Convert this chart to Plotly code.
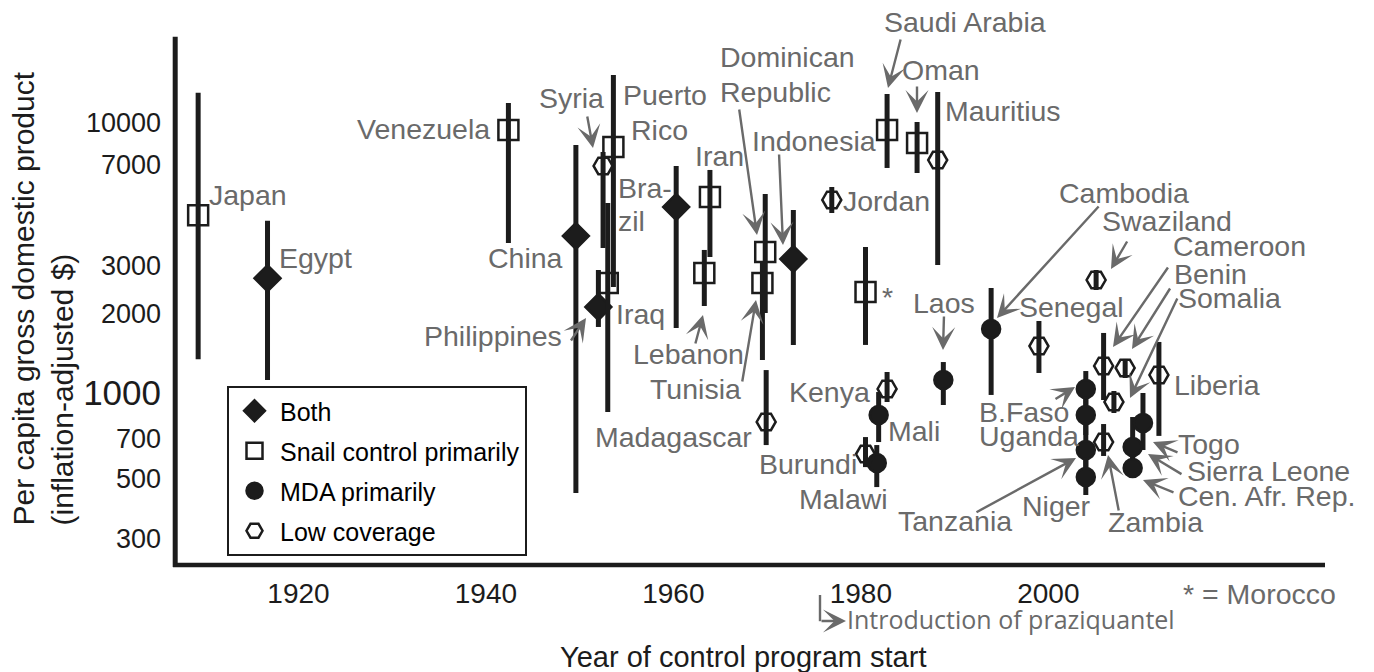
import plotly.graph_objects as go

# ---------------- data ----------------
countries = ["Japan", "Egypt", "Venezuela", "China", "Philippines", "Syria", "Iraq",
             "Puerto Rico", "Brazil", "Lebanon", "Iran", "Tunisia", "Dominican Republic",
             "Madagascar", "Indonesia", "Jordan", "Morocco", "Burundi", "Malawi", "Mali",
             "Kenya", "Saudi Arabia", "Oman", "Mauritius", "Laos", "Cambodia", "Senegal",
             "Burkina Faso", "Uganda", "Tanzania", "Niger", "Swaziland", "Cameroon",
             "Zambia", "Somalia", "Benin", "Sierra Leone", "Central African Republic",
             "Togo", "Liberia"]
start_year = [1909.3, 1916.7, 1942.4, 1949.6, 1952.0, 1952.5, 1953.0,
              1953.6, 1960.3, 1963.3, 1963.9, 1969.5, 1969.8,
              1969.9, 1972.8, 1976.9, 1980.5, 1980.5, 1981.7, 1981.9,
              1982.8, 1982.8, 1986.0, 1988.2, 1988.8, 1993.9, 1999.0,
              2004.0, 2004.0, 2004.0, 2004.0, 2005.1, 2005.9,
              2005.9, 2007.0, 2008.2, 2009.0, 2009.0,
              2010.1, 2011.8]
gdp = [4578, 2692, 9388, 3845, 2115, 6934, 2588,
       8135, 4909, 2815, 5340, 2588, 3360,
       803, 3168, 5207, 2399, 613, 568, 851,
       1060, 9388, 8414, 7290, 1143, 1757, 1522,
       1060, 851, 634, 505, 2654, 1287,
       678, 950, 1265, 650, 545,
       796, 1193]
gdp_low = [1361, 1143, 3625, 441, 1787, 3475, 873,
           2502, 1772, 2132, 3221, 1353, 2010,
           661, 1536, 4667, 1536, 549, 464, 678,
           950, 6818, 6536, 3011, 926, 1008, 1213,
           888, 719, 536, 434, 2440, 966,
           603, 866, 1163, 559, 501,
           634, 714]
gdp_high = [12850, 4374, 11785, 8275, 2887, 7800, 5077,
            14920, 6934, 3418, 6705, 3063, 5477,
            1243, 4786, 5808, 3505, 707, 661, 1033,
            1223, 12715, 10042, 12933, 1330, 2481, 1879,
            1233, 1008, 783, 608, 2887, 1699,
            789, 1042, 1365, 837, 661,
            1025, 1575]
program = ["Snail", "Both", "Snail", "Both", "Both", "Low", "Snail",
           "Snail", "Both", "Snail", "Snail", "Snail", "Snail",
           "Low", "Both", "Low", "Snail", "Low", "MDA", "MDA",
           "Low", "Snail", "Snail", "Low", "MDA", "MDA", "Low",
           "MDA", "MDA", "MDA", "MDA", "Low", "Low",
           "Low", "Low", "Low", "MDA", "MDA",
           "MDA", "Low"]

categories = ["Both", "Snail", "MDA", "Low"]
category_names = ["Both", "Snail control primarily", "MDA primarily", "Low coverage"]
x_ticks = [1920, 1940, 1960, 1980, 2000]
y_ticks = [300, 500, 700, 1000, 2000, 3000, 7000, 10000]

# ---------------- styling ----------------
INK = "#1c1c1c"
GRAY = "#6a6a6a"
FONT = "Liberation Sans, Arial, Helvetica, sans-serif"
symbols = {"Both": ("diamond", 20), "Snail": ("square-open", 20),
           "MDA": ("circle", 18), "Low": ("hexagon2-open", 19)}

# page offset (body margin) and plot-area geometry in window pixels
OFF = 8
W, H = 1374, 672
L, R, T, B = 175, 1325, 37, 565
def pxx(px):
    return (px - L) / (R - L)
def pxy(py):
    return (B - py) / (B - T)

fig = go.Figure()
for cat, name in zip(categories, category_names):
    idx = [i for i, p in enumerate(program) if p == cat]
    sym, size = symbols[cat]
    fig.add_trace(go.Scatter(
        x=[start_year[i] for i in idx],
        y=[gdp[i] for i in idx],
        text=[countries[i] for i in idx],
        mode="markers",
        name=name,
        legendgroup=cat,
        marker=dict(symbol=sym, size=size, color=INK,
                    line=dict(color=INK, width=2.5)),
        error_y=dict(type="data", symmetric=False,
                     array=[gdp_high[i] - gdp[i] for i in idx],
                     arrayminus=[gdp[i] - gdp_low[i] for i in idx],
                     thickness=5, width=0, color=INK),
        cliponaxis=False,
    ))

# ---------------- country labels (pixel anchors) ----------------
labels = [
    ("Japan", "left", 209, 195), ("Egypt", "left", 279, 258),
    ("Venezuela", "right", 490, 128.5), ("Syria", "right", 604, 98),
    ("Puerto", "center", 664.5, 94.5), ("Rico", "center", 659, 130),
    ("Bra-", "left", 618, 188), ("zil", "left", 618, 221),
    ("China", "right", 563, 258), ("Iraq", "left", 616, 313.5),
    ("Iran", "left", 695, 156), ("Philippines", "right", 562, 336),
    ("Lebanon", "left", 633, 354), ("Tunisia", "left", 650, 389),
    ("Madagascar", "right", 752, 437),
    ("Dominican", "left", 720, 57), ("Republic", "left", 720, 92),
    ("Indonesia", "left", 752, 141), ("Saudi Arabia", "left", 884, 22),
    ("Oman", "left", 902, 70), ("Mauritius", "left", 945, 111),
    ("Jordan", "left", 843, 201), ("*", "left", 882, 297),
    ("Kenya", "right", 870, 392), ("Mali", "left", 888, 431),
    ("Burundi", "right", 857, 464), ("Malawi", "right", 888, 499),
    ("Laos", "left", 913, 302.5), ("Cambodia", "left", 1059, 193),
    ("Swaziland", "left", 1102, 221), ("Senegal", "left", 1019, 307),
    ("Cameroon", "left", 1173, 246), ("Benin", "left", 1174, 273.5),
    ("Somalia", "left", 1178, 298), ("Liberia", "left", 1174, 385),
    ("B.Faso", "left", 979, 411.5), ("Uganda", "left", 979, 436),
    ("Tanzania", "left", 898, 521), ("Niger", "left", 1022, 506),
    ("Zambia", "left", 1108, 522), ("Togo", "left", 1178, 444),
    ("Sierra Leone", "left", 1187, 471), ("Cen. Afr. Rep.", "left", 1178, 496),
    ("* = Morocco", "left", 1183, 594),
]
annotations = []
for txt, anc, px, py in labels:
    annotations.append(dict(text=txt, x=pxx(px), y=pxy(py), xref="paper", yref="paper",
                            xanchor=anc, yanchor="middle", showarrow=False,
                            borderpad=0, borderwidth=0,
                            font=dict(family=FONT, size=28.5, color=GRAY)))

# arrows: (tail x, tail y, tip x, tip y) in pixels
arrows = [
    (587, 115, 593, 148), (739, 108, 757, 235), (779, 153, 783, 245),
    (901, 38, 888, 88), (917, 85, 917, 113), (570, 342, 586, 318),
    (695, 345, 703, 315), (742, 383, 756, 300), (944, 315, 943, 350),
    (1100, 205, 997, 318), (1128, 240, 1111, 269), (1169, 266, 1113, 347),
    (1171, 287, 1132, 349), (1178, 297, 1130, 398), (1054, 400, 1075, 387),
    (975, 513, 1076, 458), (1119, 512, 1108, 455), (1179, 453, 1153, 442),
    (1183, 475, 1148, 454), (1175, 493, 1143, 480),
    (820, 621, 846, 621),
]
for tx, ty, hx, hy in arrows:
    annotations.append(dict(text="", x=pxx(hx), y=pxy(hy), xref="paper", yref="paper",
                            ax=tx - hx, ay=ty - hy, showarrow=True,
                            arrowhead=3, arrowsize=1.6, arrowwidth=2.4,
                            arrowcolor=GRAY, standoff=0))

# praziquantel note
annotations.append(dict(text="Introduction of praziquantel", x=pxx(847), y=pxy(619),
                        xref="paper", yref="paper", xanchor="left", yanchor="middle",
                        showarrow=False, borderpad=0, borderwidth=0,
                        font=dict(family="Open Sans, sans-serif", size=25, color=GRAY)))

# axis titles
annotations.append(dict(text="Year of control program start", x=pxx(743), y=pxy(657),
                        xref="paper", yref="paper", xanchor="center", yanchor="middle",
                        showarrow=False, font=dict(family=FONT, size=29, color=INK)))
annotations.append(dict(text="Per capita gross domestic product<br>(inflation-adjusted $)",
                        x=pxx(42), y=pxy(298.5), xref="paper", yref="paper",
                        xanchor="center", yanchor="middle", textangle=-90, align="left",
                        showarrow=False, font=dict(family=FONT, size=30, color=INK)))

shapes = [
    dict(type="line", xref="paper", yref="paper", x0=pxx(175.2), x1=pxx(175.2),
         y0=pxy(567), y1=pxy(36.7), line=dict(color=INK, width=5)),
    dict(type="line", xref="paper", yref="paper", x0=pxx(173), x1=pxx(1325),
         y0=pxy(565), y1=pxy(565), line=dict(color=INK, width=4.7)),
    dict(type="line", xref="paper", yref="paper", x0=pxx(820), x1=pxx(820),
         y0=pxy(595), y1=pxy(621.2), line=dict(color=GRAY, width=2.4)),
]

y_ticktext = [("<span style='font-size:35px'>%d</span>" % v) if v == 1000 else str(v)
              for v in y_ticks]

fig.update_layout(
    width=W - OFF, height=H - OFF, autosize=False,
    margin=dict(l=L - OFF, r=W - R, t=T - OFF, b=H - B, pad=0),
    paper_bgcolor="white", plot_bgcolor="white",
    font=dict(family=FONT, color=INK),
    xaxis=dict(range=[1906.83, 2029.52], tickvals=x_ticks, ticktext=[str(v) for v in x_ticks],
               showgrid=False, zeroline=False, showline=False, ticks="",
               tickfont=dict(family=FONT, size=28, color=INK), ticklabelstandoff=9),
    yaxis=dict(type="log", range=[2.3815, 4.3127], tickvals=y_ticks, ticktext=y_ticktext,
               showgrid=False, zeroline=False, showline=False, ticks="",
               tickfont=dict(family=FONT, size=27, color=INK), ticklabelstandoff=13),
    legend=dict(x=pxx(227), y=pxy(386), xanchor="left", yanchor="top",
                bgcolor="white", bordercolor=INK, borderwidth=2,
                font=dict(family=FONT, size=25, color="black"),
                itemsizing="trace", itemwidth=41,
                traceorder="grouped", tracegroupgap=4.5),
    shapes=shapes,
    annotations=annotations,
    showlegend=True,
)

fig.write_html("out.html")
